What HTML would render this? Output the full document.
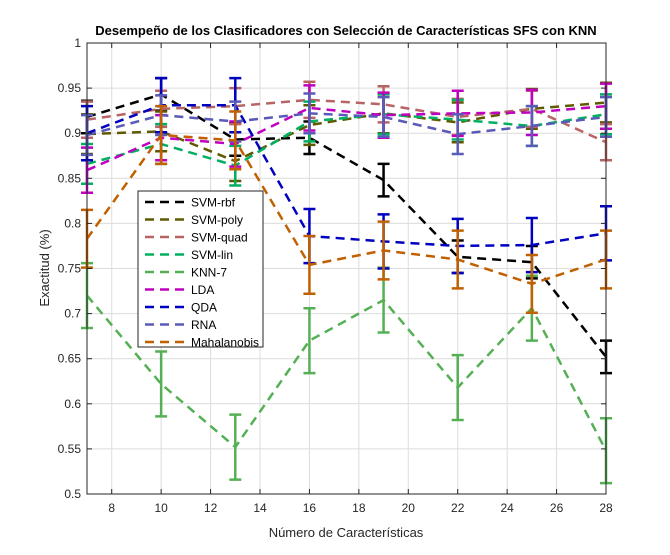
<!DOCTYPE html>
<html><head><meta charset="utf-8"><style>
body{margin:0;background:#fff;}
svg{display:block;font-family:"Liberation Sans",sans-serif;}
</style></head><body>
<svg id="chart" width="670" height="555" viewBox="0 0 670 555" xmlns="http://www.w3.org/2000/svg">
<rect width="670" height="555" fill="#fff"/>
<g id="grid"></g>
<g id="series"></g>
<rect x="87" y="43" width="519" height="451" fill="none" stroke="#262626" stroke-width="1"/>
<g id="ticks" font-size="12" fill="#262626"></g>
<text x="346" y="35" text-anchor="middle" font-size="13" font-weight="bold" fill="#000">Desempeño de los Clasificadores con Selección de Características SFS con KNN</text>
<text x="346" y="537" text-anchor="middle" font-size="13" fill="#262626">Número de Características</text>
<text transform="translate(49,268) rotate(-90)" text-anchor="middle" font-size="13" fill="#262626">Exactitud (%)</text>
<g id="legend"></g>
</svg>
<script>
const categories=[7,10,13,16,19,22,25,28];
const names=["SVM-rbf","SVM-poly","SVM-quad","SVM-lin","KNN-7","LDA","QDA","RNA","Mahalanobis"];
const colors=["#000000","#5f5a00","#b86464","#00b060","#55b055","#c000c0","#0000c0","#5a5ab8","#c06000"];
const svmRbf=[0.918,0.943,0.893,0.895,0.848,0.763,0.757,0.652];
const svmPoly=[0.899,0.902,0.869,0.909,0.922,0.912,0.927,0.934];
const svmQuad=[0.915,0.927,0.930,0.937,0.932,0.918,0.927,0.890];
const svmLin=[0.866,0.888,0.864,0.913,0.921,0.915,0.908,0.921];
const knn7=[0.720,0.622,0.552,0.670,0.715,0.618,0.706,0.548];
const lda=[0.859,0.895,0.888,0.928,0.920,0.922,0.923,0.930];
const qda=[0.900,0.931,0.931,0.786,0.780,0.775,0.776,0.789];
const rna=[0.898,0.920,0.913,0.922,0.918,0.899,0.908,0.918];
const maha=[0.783,0.898,0.892,0.754,0.770,0.760,0.733,0.760];
const errors=[0.018,0.022,0.02,0.022,0.036,0.025,0.03,0.022,0.032];
const xTicks=[8,10,12,14,16,18,20,22,24,26,28];
const yTicks=[0.5,0.55,0.6,0.65,0.7,0.75,0.8,0.85,0.9,0.95,1];
const yTickLabels=["0.5","0.55","0.6","0.65","0.7","0.75","0.8","0.85","0.9","0.95","1"];
const allSeries=[svmRbf,svmPoly,svmQuad,svmLin,knn7,lda,qda,rna,maha];
const NS="http://www.w3.org/2000/svg";
const X=v=>87+(v-7)*(519/21);
const Y=v=>43+(1-v)*902;
function mk(t,a,p){const e=document.createElementNS(NS,t);for(const k in a)e.setAttribute(k,a[k]);p.appendChild(e);return e;}
const grid=document.getElementById('grid'),ticks=document.getElementById('ticks');
xTicks.forEach(t=>{
 const l=mk('line',{x1:X(t),x2:X(t),y1:43,y2:494,stroke:'#dcdcdc'},grid);
 
 const tx=mk('text',{x:X(t),y:512,'text-anchor':'middle'},ticks);tx.textContent=t;
 
 mk('line',{x1:X(t),x2:X(t),y1:494,y2:489,stroke:'#262626'},ticks);
 mk('line',{x1:X(t),x2:X(t),y1:43,y2:48,stroke:'#262626'},ticks);
});
yTicks.forEach((t,i)=>{
 const l=mk('line',{x1:87,x2:606,y1:Y(t),y2:Y(t),stroke:'#dcdcdc'},grid);
 
 const tx=mk('text',{x:81,y:Y(t)+4,'text-anchor':'end'},ticks);tx.textContent=yTickLabels[i];
 
 mk('line',{x1:87,x2:92,y1:Y(t),y2:Y(t),stroke:'#262626'},ticks);
 mk('line',{x1:606,x2:601,y1:Y(t),y2:Y(t),stroke:'#262626'},ticks);
});
const sg=document.getElementById('series');
allSeries.forEach((vals,si)=>{
 const g=mk('g',{},sg);
 
 
 const pts=vals.map((v,i)=>X(categories[i])+','+Y(v)).join(' ');
 const pl=mk('polyline',{points:pts,fill:'none',stroke:colors[si],'stroke-width':2.5,'stroke-dasharray':'9,6'},g);
 
 
 vals.forEach((v,i)=>{
  const x=X(categories[i]),e=errors[si],y1=Y(v+e),y2=Y(v-e);
  const eb=mk('path',{d:`M${x},${y1}V${y2}M${x-6},${y1}H${x+6}M${x-6},${y2}H${x+6}`,stroke:colors[si],'stroke-width':2.5,fill:'none'},g);
  
  
 });
});
const lg=document.getElementById('legend');
mk('rect',{x:138,y:191,width:125,height:156,fill:'#fff',stroke:'#262626'},lg);
names.forEach((n,i)=>{
 const y=202+i*17.5;
 const e=mk('g',{},lg);
 
 
 mk('line',{x1:145,x2:188,y1:y,y2:y,stroke:colors[i],'stroke-width':2.5,'stroke-dasharray':'9,6'},e);
 const t=mk('text',{x:191,y:y+4.5,'font-size':12,fill:'#000'},e);t.textContent=n;
});
</script>
</body></html>
